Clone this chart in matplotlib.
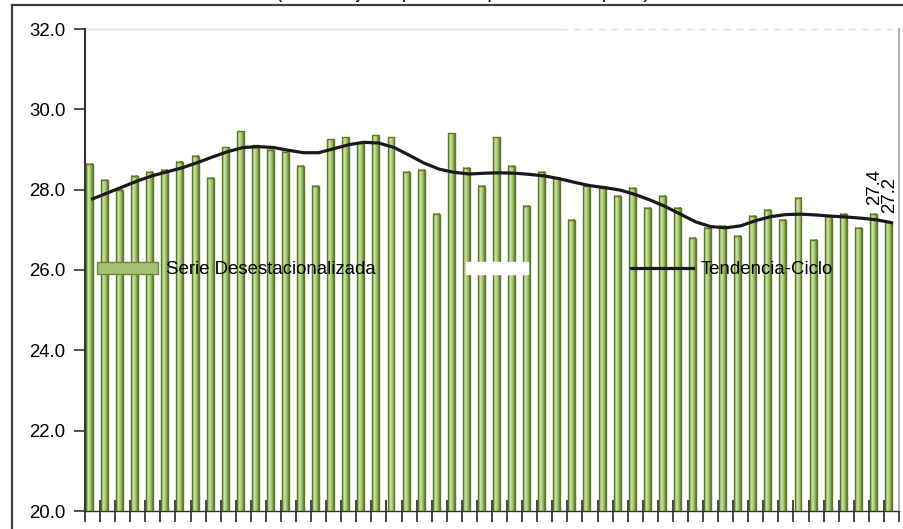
import numpy as np
import matplotlib
matplotlib.use('Agg')
import matplotlib.pyplot as plt
from matplotlib.lines import Line2D
from matplotlib.patches import Patch
from matplotlib.colors import LinearSegmentedColormap

plt.rcParams['font.family'] = ['Liberation Sans', 'DejaVu Sans']

# valores (54 periodos)
serie = [28.65, 28.25, 28.0, 28.35, 28.45, 28.5, 28.7, 28.85, 28.3, 29.05,
         29.45, 29.1, 29.0, 28.95, 28.6, 28.1, 29.25, 29.3, 29.15, 29.35,
         29.3, 28.45, 28.5, 27.4, 29.4, 28.55, 28.1, 29.3, 28.6, 27.6,
         28.45, 28.3, 27.25, 28.1, 28.05, 27.85, 28.05, 27.55, 27.85, 27.55,
         26.8, 27.05, 27.1, 26.85, 27.35, 27.5, 27.25, 27.8, 26.75, 27.35,
         27.4, 27.05, 27.4, 27.2]
tendencia = [27.77, 27.92, 28.07, 28.22, 28.35, 28.45, 28.55, 28.68, 28.82, 28.95,
             29.05, 29.07, 29.05, 28.98, 28.92, 28.92, 29.02, 29.12, 29.18, 29.16,
             29.05, 28.86, 28.66, 28.51, 28.43, 28.39, 28.41, 28.42, 28.41, 28.38,
             28.34, 28.27, 28.18, 28.10, 28.05, 27.99, 27.88, 27.74, 27.58, 27.39,
             27.20, 27.08, 27.05, 27.10, 27.23, 27.33, 27.38, 27.39, 27.37, 27.34,
             27.32, 27.29, 27.25, 27.18]
titulo = '(Porcentaje respecto a la población ocupada)'

n = len(serie)
x = np.arange(n)
ancho = 0.46
desplaz = -0.2
fs = 13.4

fig = plt.figure(figsize=(9.04, 5.29), dpi=100)
ax = fig.add_axes([85/904, 18/529, 814/904, 482/529])

# barras con degradado
cmap = LinearSegmentedColormap.from_list(
    'verde', ['#5e7d2c', '#cbe2a4', '#bcd88e', '#94b35e', '#5e7d2c'])
grad = np.linspace(0, 1, 64).reshape(1, -1)
for xi, v in zip(x, serie):
    x0 = xi + desplaz - ancho / 2
    ax.imshow(grad, extent=[x0, x0 + ancho, 20, v], aspect='auto',
              cmap=cmap, origin='lower', zorder=2)
ax.bar(x + desplaz, serie, width=ancho, fill=False, edgecolor='#5a7a2a',
       linewidth=1, zorder=3)

ax.plot(x, tendencia, color='#1a1a1a', lw=2.3, zorder=4)

for i in [n - 2, n - 1]:
    ax.annotate(f'{serie[i]:.1f}', (x[i] + desplaz, serie[i]), xytext=(1, 6),
                textcoords='offset points', rotation=90, ha='center',
                va='bottom', fontsize=fs, zorder=5)

ax.set_xlim(-0.5, n - 0.5)
ax.set_ylim(20, 32)

ax.set_yticks(np.arange(20, 33, 2))
ax.set_yticklabels([f'{v:.1f}' for v in np.arange(20, 33, 2)], fontsize=fs)
ax.tick_params(axis='y', direction='out', length=8, width=1.2, pad=6,
               color='#333333')
ax.set_xticks(np.arange(-0.5, n, 1))
ax.set_xticklabels([])
ax.tick_params(axis='x', direction='inout', length=16, width=1.2,
               color='#222222')

ax.spines['top'].set_visible(False)
ax.spines['right'].set_color('#b0b0b0')
ax.spines['right'].set_linewidth(1.5)
ax.spines['left'].set_color('#333333')
ax.spines['left'].set_linewidth(1.5)
ax.spines['bottom'].set_color('#333333')
ax.spines['bottom'].set_linewidth(1)

ax.axhline(32, xmin=0, xmax=0.585, color='#e3e3e3', lw=1, clip_on=False)
ax.axhline(32, xmin=0.585, xmax=0.992, color='#dddddd', lw=1, ls=(0, (5, 4)),
           clip_on=False)

handles = [Patch(facecolor='#a4c173', edgecolor='#6b8a3a'),
           Patch(facecolor='white', edgecolor='white'),
           Line2D([], [], color='#1a1a1a', lw=2.3)]
labels = ['Serie Desestacionalizada', ' ', 'Tendencia-Ciclo']
ax.legend(handles, labels, loc='center left', bbox_to_anchor=(0.0147, 0.5),
          ncol=3, frameon=False, fontsize=fs, handlelength=3.3,
          handleheight=0.65, handletextpad=0.43, columnspacing=4.85,
          borderpad=0, borderaxespad=0)

# marco exterior recortado
fig.add_artist(Line2D([12/904, 12/904], [0, 1 - 5/529], transform=fig.transFigure,
                      color='#404040', lw=1.6))
fig.add_artist(Line2D([12/904, 1], [1 - 5/529, 1 - 5/529], transform=fig.transFigure,
                      color='#404040', lw=1.6))
fig.text(0.512, 1 + 1.5/529, titulo, ha='center', va='baseline', fontsize=fs)

fig.savefig('out.png', dpi=100)
